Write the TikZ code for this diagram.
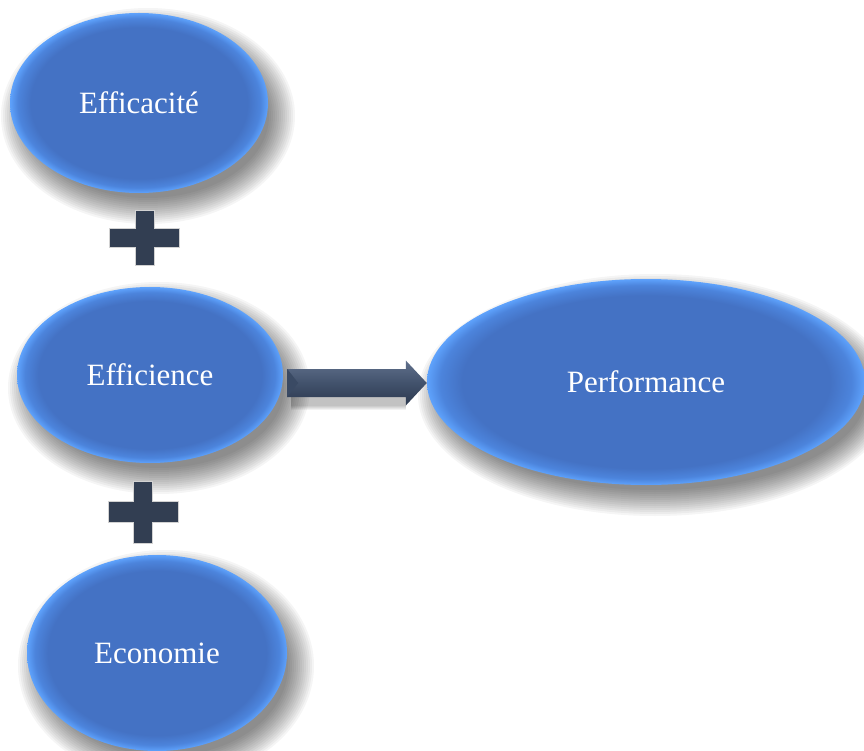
\documentclass[tikz,border=0pt]{standalone}
\usepackage{fontspec}
\setmainfont{Liberation Serif}
\usetikzlibrary{shapes.geometric,calc,backgrounds}
\definecolor{ellin}{RGB}{68,114,196}
\definecolor{ellmid}{RGB}{76,132,220}
\definecolor{ellrim}{RGB}{94,162,252}
\definecolor{plusc}{RGB}{50,62,82}
\definecolor{arrtop}{RGB}{96,112,140}
\definecolor{arrmid}{RGB}{66,82,108}
\definecolor{arrbot}{RGB}{44,56,78}
\definecolor{arrbevel}{RGB}{58,74,100}
\pgfdeclareradialshading{ellshade}{\pgfpoint{0bp}{0bp}}{color(0bp)=(ellin); color(21bp)=(ellin); color(23.5bp)=(ellmid); color(25bp)=(ellrim); color(50bp)=(ellrim)}
\newcommand\softshadow[3]{%
  \foreach \i in {1,...,14}{%
    \fill[black, opacity=0.038] ($(#1.center)+(9,13)$) ellipse [x radius={(#2-10+2*\i)*1pt}, y radius={(#3-10+2*\i)*1pt}];}}
\begin{document}
\begin{tikzpicture}[x=1pt,y=-1pt,
  bubble/.style={ellipse, inner sep=0pt, shade, shading=ellshade, text=white,
    font=\fontsize{31}{36}\selectfont},
  plusmark/.style={fill=plusc, draw=gray!35, line width=0.6pt},
  blockarrow/.style={top color=arrtop, bottom color=arrbot, middle color=arrmid},
  plussign/.pic={\path[plusmark] (-9.5,-27.5) -- ++(19,0) -- ++(0,18) -- ++(25.5,0) -- ++(0,19) -- ++(-25.5,0) -- ++(0,18) -- ++(-19,0) -- ++(0,-18) -- ++(-25.5,0) -- ++(0,-19) -- ++(25.5,0) -- cycle;}
]
\useasboundingbox (0,0) rectangle (864,751);

\node[bubble, minimum width=258, minimum height=180] (effa) at (139,103) {Efficacité};
\node[bubble, minimum width=266, minimum height=176] (effi) at (150,375) {Efficience};
\node[bubble, minimum width=260, minimum height=196] (eco) at (157,653) {Economie};
\node[bubble, minimum width=438, minimum height=206] (perf) at (646,382) {Performance};

\begin{pgfonlayer}{background}
  \fill[white] (0,0) rectangle (864,751);
  \softshadow{effa}{129}{90}
  \softshadow{effi}{133}{88}
  \softshadow{eco}{130}{98}
  \softshadow{perf}{219}{103}
\end{pgfonlayer}

\coordinate (p1) at ($(effa.south)!0.5!(effi.north)+(0,-2)$);
\coordinate (p2) at ($(effi.south)!0.5!(eco.north)+(-10.5,3)$);
\pic at (p1) {plussign};
\pic[yscale=1.12] at (p2) {plussign};

\coordinate (as) at ($(effi.east |- perf.west)+(4,1)$);
\coordinate (at) at ($(perf.west)+(0,1)$);
\foreach \i in {1,...,5}{%
  \fill[black, opacity=0.05] ($(as)+(4,-14+8-\i)$) -- ($(at)+(-21,-14+8-\i)$) -- ($(at)+(-21,14+8+\i)$) -- ($(as)+(4,14+8+\i)$) -- cycle;}
\path[blockarrow] ($(as)+(0,-14)$) -- ($(at)+(-21,-14)$) -- ($(at)+(-21,-22.5)$) -- (at)
  -- ($(at)+(-21,22.5)$) -- ($(at)+(-21,14)$) -- ($(as)+(0,14)$) -- cycle;
\fill[arrbevel] ($(as)+(0,-14)$) -- ($(as)+(11,0)$) -- ($(as)+(0,14)$) -- cycle;
\end{tikzpicture}
\end{document}
